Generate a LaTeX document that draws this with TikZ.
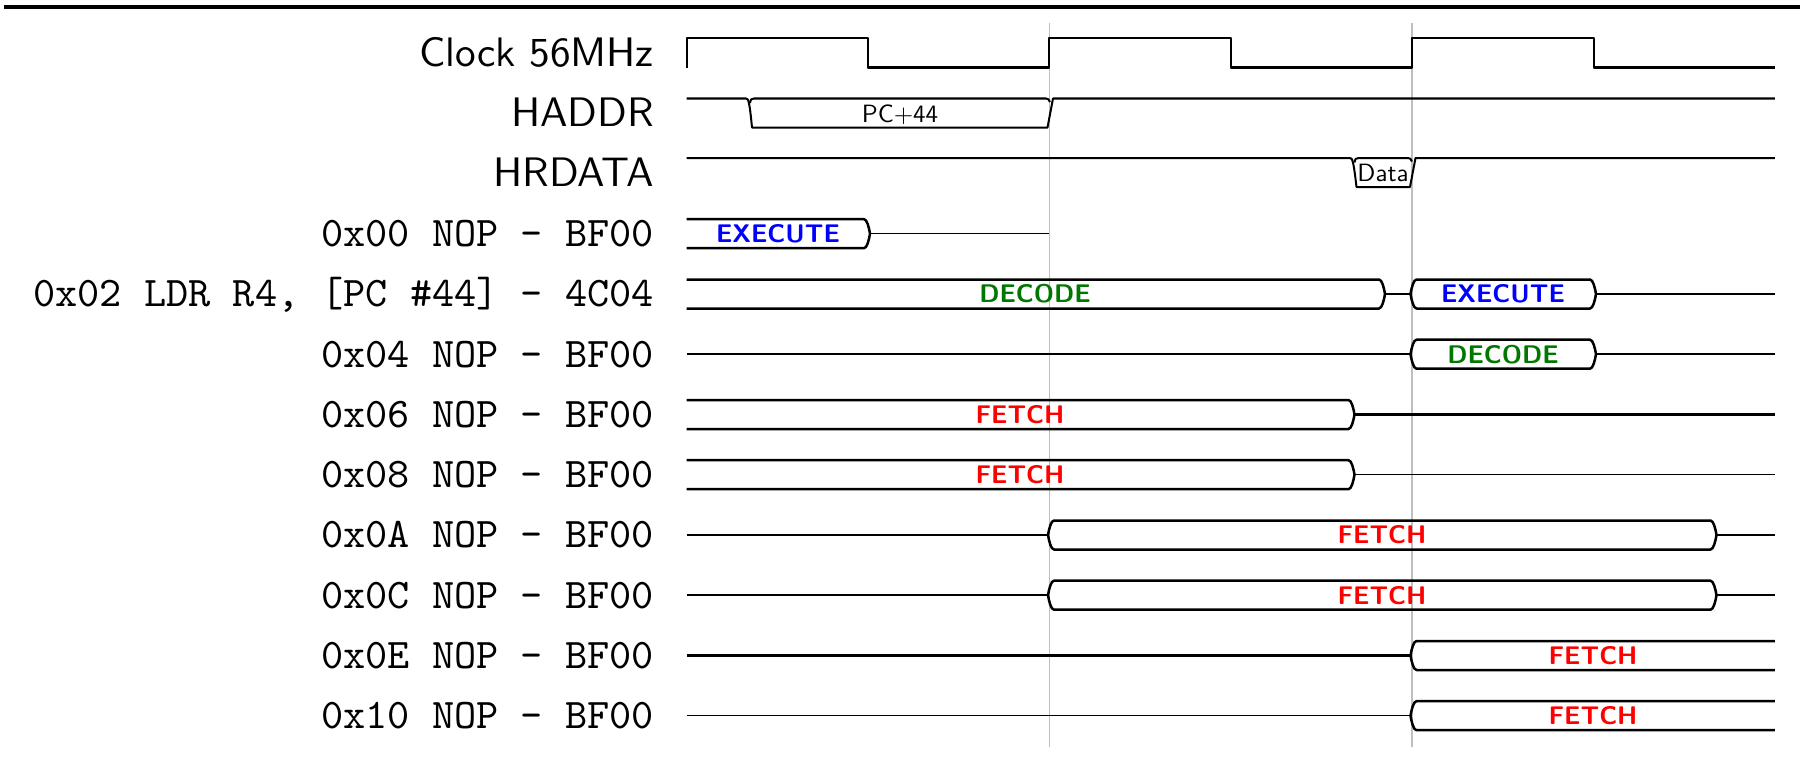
\documentclass[tikz,border=0pt]{standalone}
\definecolor{exec}{RGB}{0,0,255}
\definecolor{deco}{RGB}{0,120,0}
\definecolor{fetc}{RGB}{255,0,0}
\newcommand\busSC[3]{%
  \draw[wave] (#1,{#3-14.5}) -- ({#2-6},{#3-14.5}) .. controls ({#2-3},{#3-14.5}) and ({#2-1},{#3-6}) .. (#2,#3) .. controls ({#2-1},{#3+6}) and ({#2-3},{#3+14.5}) .. ({#2-6},{#3+14.5}) -- (#1,{#3+14.5});}
\newcommand\busCC[3]{%
  \draw[wave] (#1,#3) .. controls ({#1+1},{#3-6}) and ({#1+3},{#3-14.5}) .. ({#1+6},{#3-14.5}) -- ({#2-6},{#3-14.5}) .. controls ({#2-3},{#3-14.5}) and ({#2-1},{#3-6}) .. (#2,#3) .. controls ({#2-1},{#3+6}) and ({#2-3},{#3+14.5}) .. ({#2-6},{#3+14.5}) -- ({#1+6},{#3+14.5}) .. controls ({#1+3},{#3+14.5}) and ({#1+1},{#3+6}) .. cycle;}
\newcommand\busCE[3]{%
  \draw[wave] (#2,{#3-14.5}) -- ({#1+6},{#3-14.5}) .. controls ({#1+3},{#3-14.5}) and ({#1+1},{#3-6}) .. (#1,#3) .. controls ({#1+1},{#3+6}) and ({#1+3},{#3+14.5}) .. ({#1+6},{#3+14.5}) -- (#2,{#3+14.5});}
\newcommand\bigsf[1]{\scalebox{4.12}{\fontsize{10}{12}\selectfont\sffamily #1}}
\newcommand\bigtt[1]{\scalebox{4.22}{\fontsize{10}{12}\selectfont\ttfamily #1}}
\newcommand\smallsf[1]{\scalebox{2.5}{\fontsize{10}{12}\selectfont\sffamily #1}}
\begin{document}
\begin{tikzpicture}[x=1pt,y=-1pt,
  wave/.style={line width=2.5pt, line join=round},
  thinwave/.style={line width=1.4pt},
  midwave/.style={line width=2pt},
  gridline/.style={line width=1.3pt, draw=black!25},
  siglbl/.style={anchor=base east, inner sep=0pt},
  inslbl/.style={anchor=base east, inner sep=0pt},
  phase/.style={anchor=base, inner sep=0pt, font=\fontsize{25.5}{30}\selectfont\sffamily\bfseries},
  val/.style={anchor=base, inner sep=0pt},
]
\useasboundingbox (0,0) rectangle (1800,760);
\def\xA{686.5}\def\xB{867.9}\def\xC{1049.3}\def\xD{1230.7}\def\xE{1412.1}\def\xF{1593.5}\def\xG{1774.9}
\def\yClk{52.8}\def\yHA{113}\def\yHR{172.5}
\def\rA{233.7}\def\rB{294}\def\rC{354.2}\def\rD{414.5}\def\rE{474.7}\def\rF{535}\def\rG{595.2}\def\rH{655.5}\def\rI{715.7}
% top rule
\draw[line width=3.5pt] (4,7) -- (1800,7);
% grid lines
\draw[gridline] (\xC,23) -- (\xC,747);
\draw[gridline] (\xE,23) -- (\xE,747);
% labels
\node[siglbl] (lclk) at (654,{\yClk+13.9}) {\bigsf{Clock 56MHz}};
\node[siglbl] (lha) at (654,{\yHA+13.9}) {\bigsf{HADDR}};
\node[siglbl] (lhr) at (654,{\yHR+13.9}) {\bigsf{HRDATA}};
\node[inslbl] (l0) at (654,{\rA+12.8}) {\bigtt{0x00 NOP - BF00}};
\node[inslbl] (l2) at (654,{\rB+12.8}) {\bigtt{0x02 LDR R4, [PC \#44] - 4C04}};
\node[inslbl] (l4) at (654,{\rC+12.8}) {\bigtt{0x04 NOP - BF00}};
\node[inslbl] (l6) at (654,{\rD+12.8}) {\bigtt{0x06 NOP - BF00}};
\node[inslbl] (l8) at (654,{\rE+12.8}) {\bigtt{0x08 NOP - BF00}};
\node[inslbl] (lA) at (654,{\rF+12.8}) {\bigtt{0x0A NOP - BF00}};
\node[inslbl] (lC) at (654,{\rG+12.8}) {\bigtt{0x0C NOP - BF00}};
\node[inslbl] (lE) at (654,{\rH+12.8}) {\bigtt{0x0E NOP - BF00}};
\node[inslbl] (l10) at (654,{\rI+12.8}) {\bigtt{0x10 NOP - BF00}};
% clock
\draw[wave,line width=2pt] (\xA,67.7) -- (\xA,37.9) -- (\xB,37.9) -- (\xB,67.7) -- (\xC,67.7) -- (\xC,37.9) -- (\xD,37.9) -- (\xD,67.7) -- (\xE,67.7) -- (\xE,37.9) -- (\xF,37.9) -- (\xF,67.7) -- (\xG,67.7);
\draw[line width=2.9pt] (\xB,67.7) -- (\xC,67.7) (\xD,67.7) -- (\xE,67.7) (\xF,67.7) -- (\xG,67.7);
% HADDR
\draw[midwave,line join=round] (\xA,98.5) -- (746,98.5) .. controls (748.5,98.5) and (749.5,102) .. (752,127.5) -- (1047.5,127.5) -- (1053,98.5) -- (\xG,98.5);
\draw[midwave] (750,103) .. controls (750.5,99.5) and (751.5,98.5) .. (754,98.5) -- (1046,98.5) .. controls (1048,98.5) and (1049,99.5) .. (1050,102);
\node[val] (vpc) at (900,{\yHA+9}) {\smallsf{PC+44}};
% HRDATA
\draw[midwave,line join=round] (\xA,158) -- (1350,158) .. controls (1352.5,158) and (1353.5,161.5) .. (1356.5,187) -- (1410,187) -- (1415.5,158) -- (\xG,158);
\draw[midwave] (1354.5,162.5) .. controls (1355,159) and (1356,158) .. (1358.5,158) -- (1408,158) .. controls (1410,158) and (1411,159) .. (1412,161.5);
\node[val] (vdata) at (1383,{\yHR+9}) {\smallsf{Data}};
% 0x00
\busSC{\xA}{870}{\rA}
\draw[thinwave] (870,\rA) -- (\xC,\rA);
\node[phase,text=exec] (p0) at (778,{\rA+8.9}) {EXECUTE};
% 0x02
\busSC{\xA}{1385}{\rB}
\draw[wave] (1385,\rB) -- (1410.5,\rB);
\busCC{1410.5}{1596}{\rB}
\draw[wave] (1596,\rB) -- (\xG,\rB);
\node[phase,text=deco] (p2a) at (1035,{\rB+8.9}) {DECODE};
\node[phase,text=exec] (p2b) at (1503,{\rB+8.9}) {EXECUTE};
% 0x04
\draw[wave] (\xA,\rC) -- (1410.5,\rC);
\busCC{1410.5}{1596}{\rC}
\draw[wave] (1596,\rC) -- (\xG,\rC);
\node[phase,text=deco] (p4) at (1503,{\rC+8.9}) {DECODE};
% 0x06
\busSC{\xA}{1354.5}{\rD}
\draw[wave] (1354.5,\rD) -- (\xG,\rD);
\node[phase,text=fetc] (p6) at (1020,{\rD+8.9}) {FETCH};
% 0x08
\busSC{\xA}{1354.5}{\rE}
\draw[thinwave] (1354.5,\rE) -- (\xG,\rE);
\node[phase,text=fetc] (p8) at (1020,{\rE+8.9}) {FETCH};
% 0x0A
\draw[wave] (\xA,\rF) -- (1048,\rF);
\busCC{1048}{1716.5}{\rF}
\draw[wave] (1716.5,\rF) -- (\xG,\rF);
\node[phase,text=fetc] (pA) at (1382,{\rF+8.9}) {FETCH};
% 0x0C
\draw[wave] (\xA,\rG) -- (1048,\rG);
\busCC{1048}{1716.5}{\rG}
\draw[wave] (1716.5,\rG) -- (\xG,\rG);
\node[phase,text=fetc] (pC) at (1382,{\rG+8.9}) {FETCH};
% 0x0E
\draw[wave] (\xA,\rH) -- (1410.5,\rH);
\busCE{1410.5}{\xG}{\rH}
\node[phase,text=fetc] (pE) at (1593,{\rH+8.9}) {FETCH};
% 0x10
\draw[thinwave] (\xA,\rI) -- (1410.5,\rI);
\busCE{1410.5}{\xG}{\rI}
\node[phase,text=fetc] (p10) at (1593,{\rI+8.9}) {FETCH};
\end{tikzpicture}
\end{document}
